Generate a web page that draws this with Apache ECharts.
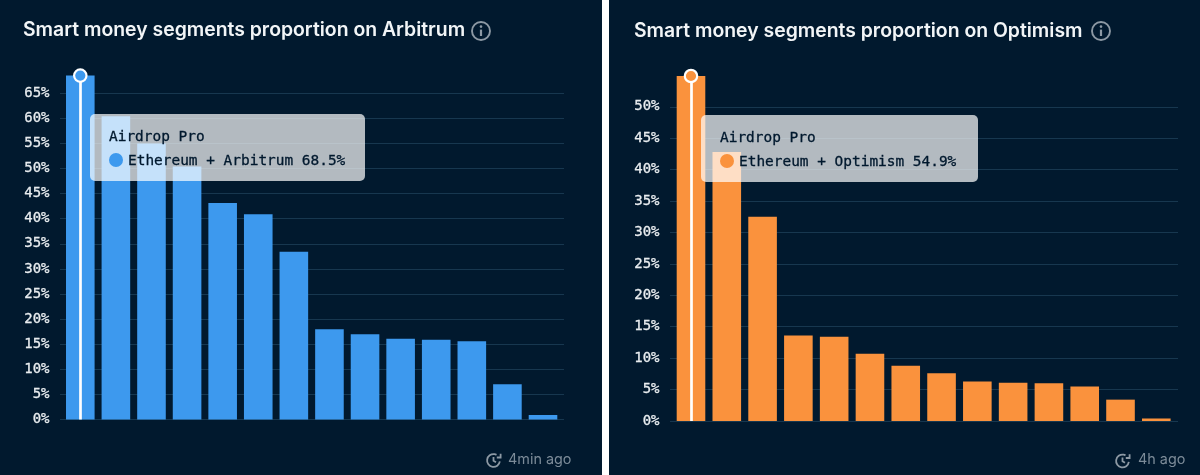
<!DOCTYPE html>
<html>
<head>
<meta charset="utf-8">
<script src="https://cdn.jsdelivr.net/npm/echarts@6/dist/echarts.min.js"></script>
<style>
html,body{margin:0;padding:0;background:#fff;width:1200px;height:475px;overflow:hidden}
.panel{position:absolute;top:0;height:475px;background:#01192e}
#a{left:0;width:602px}
#b{left:609px;width:591px}
</style>
</head>
<body>
<div id="a" class="panel"></div>
<div id="b" class="panel"></div>
<script>
const categories = ["Airdrop Pro","Segment 2","Segment 3","Segment 4","Segment 5","Segment 6","Segment 7","Segment 8","Segment 9","Segment 10","Segment 11","Segment 12","Segment 13","Segment 14"];
const arbitrumValues = [68.5,60.4,55.0,50.4,43.1,40.9,33.4,18.0,17.0,16.1,15.9,15.6,7.0,0.9];
const optimismValues = [54.9,42.8,32.5,13.6,13.4,10.7,8.8,7.6,6.3,6.1,6.0,5.5,3.4,0.4];

const SANS = 'Inter, sans-serif';
const MONO = '"DejaVu Sans Mono", monospace';
const GRIDLINE = '#17374f';
const ICON = '#8d99a4';

function clockIcon(x, y) {
  const st = {fill:'none',stroke:ICON,lineWidth:1.8};
  return {type:'group',x:x,y:y,silent:true,children:[
    {type:'arc',shape:{cx:7.5,cy:8,r:6.4,startAngle:0.15,endAngle:5.2,clockwise:true},style:st},
    {type:'polyline',shape:{points:[[14.6,1.2],[14.6,5],[10.8,5]]},style:st},
    {type:'polyline',shape:{points:[[7.5,4.5],[7.5,8.3],[10,9.8]]},style:st}
  ]};
}

function build(id, cfg) {
  const chart = echarts.init(document.getElementById(id), null, {renderer:'canvas'});
  const top = cfg.values[0];
  chart.setOption({
    animation:false,
    backgroundColor:'#01192e',
    title:{text:cfg.title,left:cfg.titleX,top:cfg.titleY,padding:0,
      textStyle:{fontFamily:SANS,fontSize:19.4,fontWeight:600,color:'#f2f5f7'}},
    grid:[
      {left:cfg.bandL,width:cfg.bandR-cfg.bandL,top:cfg.top,height:cfg.bottom-cfg.top},
      {left:cfg.lineL,width:cfg.lineR-cfg.lineL,top:cfg.top,height:cfg.bottom-cfg.top}
    ],
    xAxis:[
      {type:'category',gridIndex:0,data:categories,axisLine:{show:false},axisTick:{show:false},axisLabel:{show:false}},
      {type:'value',gridIndex:1,min:0,max:1,axisLine:{show:false},axisTick:{show:false},axisLabel:{show:false},splitLine:{show:false}}
    ],
    yAxis:[
      {type:'value',gridIndex:0,min:0,max:top,interval:5,show:false,splitLine:{show:false}},
      {type:'value',gridIndex:1,min:0,max:top,interval:5,
        axisLine:{show:false},axisTick:{show:false},
        axisLabel:{showMaxLabel:false,margin:10.5,padding:[4,0,0,0],formatter:'{value}%',fontFamily:MONO,fontSize:14,color:'#e8ecef',
          textBorderColor:'#e8ecef',textBorderWidth:0.3},
        splitLine:{show:true,showMaxLine:false,lineStyle:{color:GRIDLINE,width:1}}}
    ],
    tooltip:{
      show:true,trigger:'item',triggerOn:'none',alwaysShowContent:true,transitionDuration:0,
      position:cfg.tipPos,padding:0,borderWidth:0,
      backgroundColor:'rgba(255,255,255,0.7)',
      extraCssText:'border-radius:5px;box-shadow:none;',
      formatter:function(p){
        return '<div style="box-sizing:border-box;width:'+cfg.tipW+'px;height:67px;padding:10px 0 0 19px;font-family:'+MONO.replace(/"/g,"'")+';font-size:14.45px;line-height:24px;color:#01192e;-webkit-text-stroke:0.3px #01192e">'+
          '<div>'+p.name+'</div>'+
          '<div style="white-space:nowrap"><span style="display:inline-block;width:14px;height:14px;border-radius:50%;background:'+cfg.color+';vertical-align:-2px;margin-right:5px"></span>'+cfg.pair+' '+p.value+'%</div></div>';
      }
    },
    series:[{
      type:'bar',xAxisIndex:0,yAxisIndex:0,data:cfg.values,barWidth:28.6,
      itemStyle:{color:cfg.color},
      z:3,
      markLine:{silent:true,symbol:'none',animation:false,label:{show:false},
        lineStyle:{color:'#ffffff',width:2.7,type:'solid'},
        data:[[{coord:[0,top]},{coord:[0,0]}]]},
      markPoint:{silent:true,animation:false,symbol:'circle',symbolSize:12.4,label:{show:false},
        itemStyle:{color:cfg.color,borderColor:'#ffffff',borderWidth:2.2},
        data:[{coord:[0,top]}]}
    }],
    graphic:[
      {type:'circle',x:cfg.infoX,y:31,shape:{r:9},style:{fill:'none',stroke:ICON,lineWidth:1.9},silent:true},
      {type:'rect',x:cfg.infoX-1.1,y:29.6,shape:{width:2.2,height:6.4},style:{fill:ICON},silent:true},
      {type:'circle',x:cfg.infoX,y:26.6,shape:{r:1.3},style:{fill:ICON},silent:true},
      clockIcon(cfg.clockX,cfg.clockY),
      {type:'text',x:cfg.agoX,y:cfg.clockY,style:{text:cfg.ago,font:'400 14.4px '+SANS,fill:'#7c8b98'},silent:true}
    ]
  });
  chart.dispatchAction({type:'showTip',seriesIndex:0,dataIndex:0});
  return chart;
}

build('a',{title:'Smart money segments proportion on Arbitrum',pair:'Ethereum + Arbitrum',values:arbitrumValues,color:'#3d99ee',
  titleX:23,titleY:21,top:75.6,bottom:419.5,bandL:62.5,bandR:560.8,lineL:60,lineR:564,
  tipPos:[90,114],tipW:275,infoX:481,clockX:486,clockY:452.5,agoX:508,ago:'4min ago'});
build('b',{title:'Smart money segments proportion on Optimism',pair:'Ethereum + Optimism',values:optimismValues,color:'#fa923d',
  titleX:25,titleY:22,top:76,bottom:421,bandL:64.1,bandR:565.2,lineL:61,lineR:569,
  tipPos:[92,115],tipW:277,infoX:492,clockX:506,clockY:453,agoX:529,ago:'4h ago'});
</script>
</body>
</html>
